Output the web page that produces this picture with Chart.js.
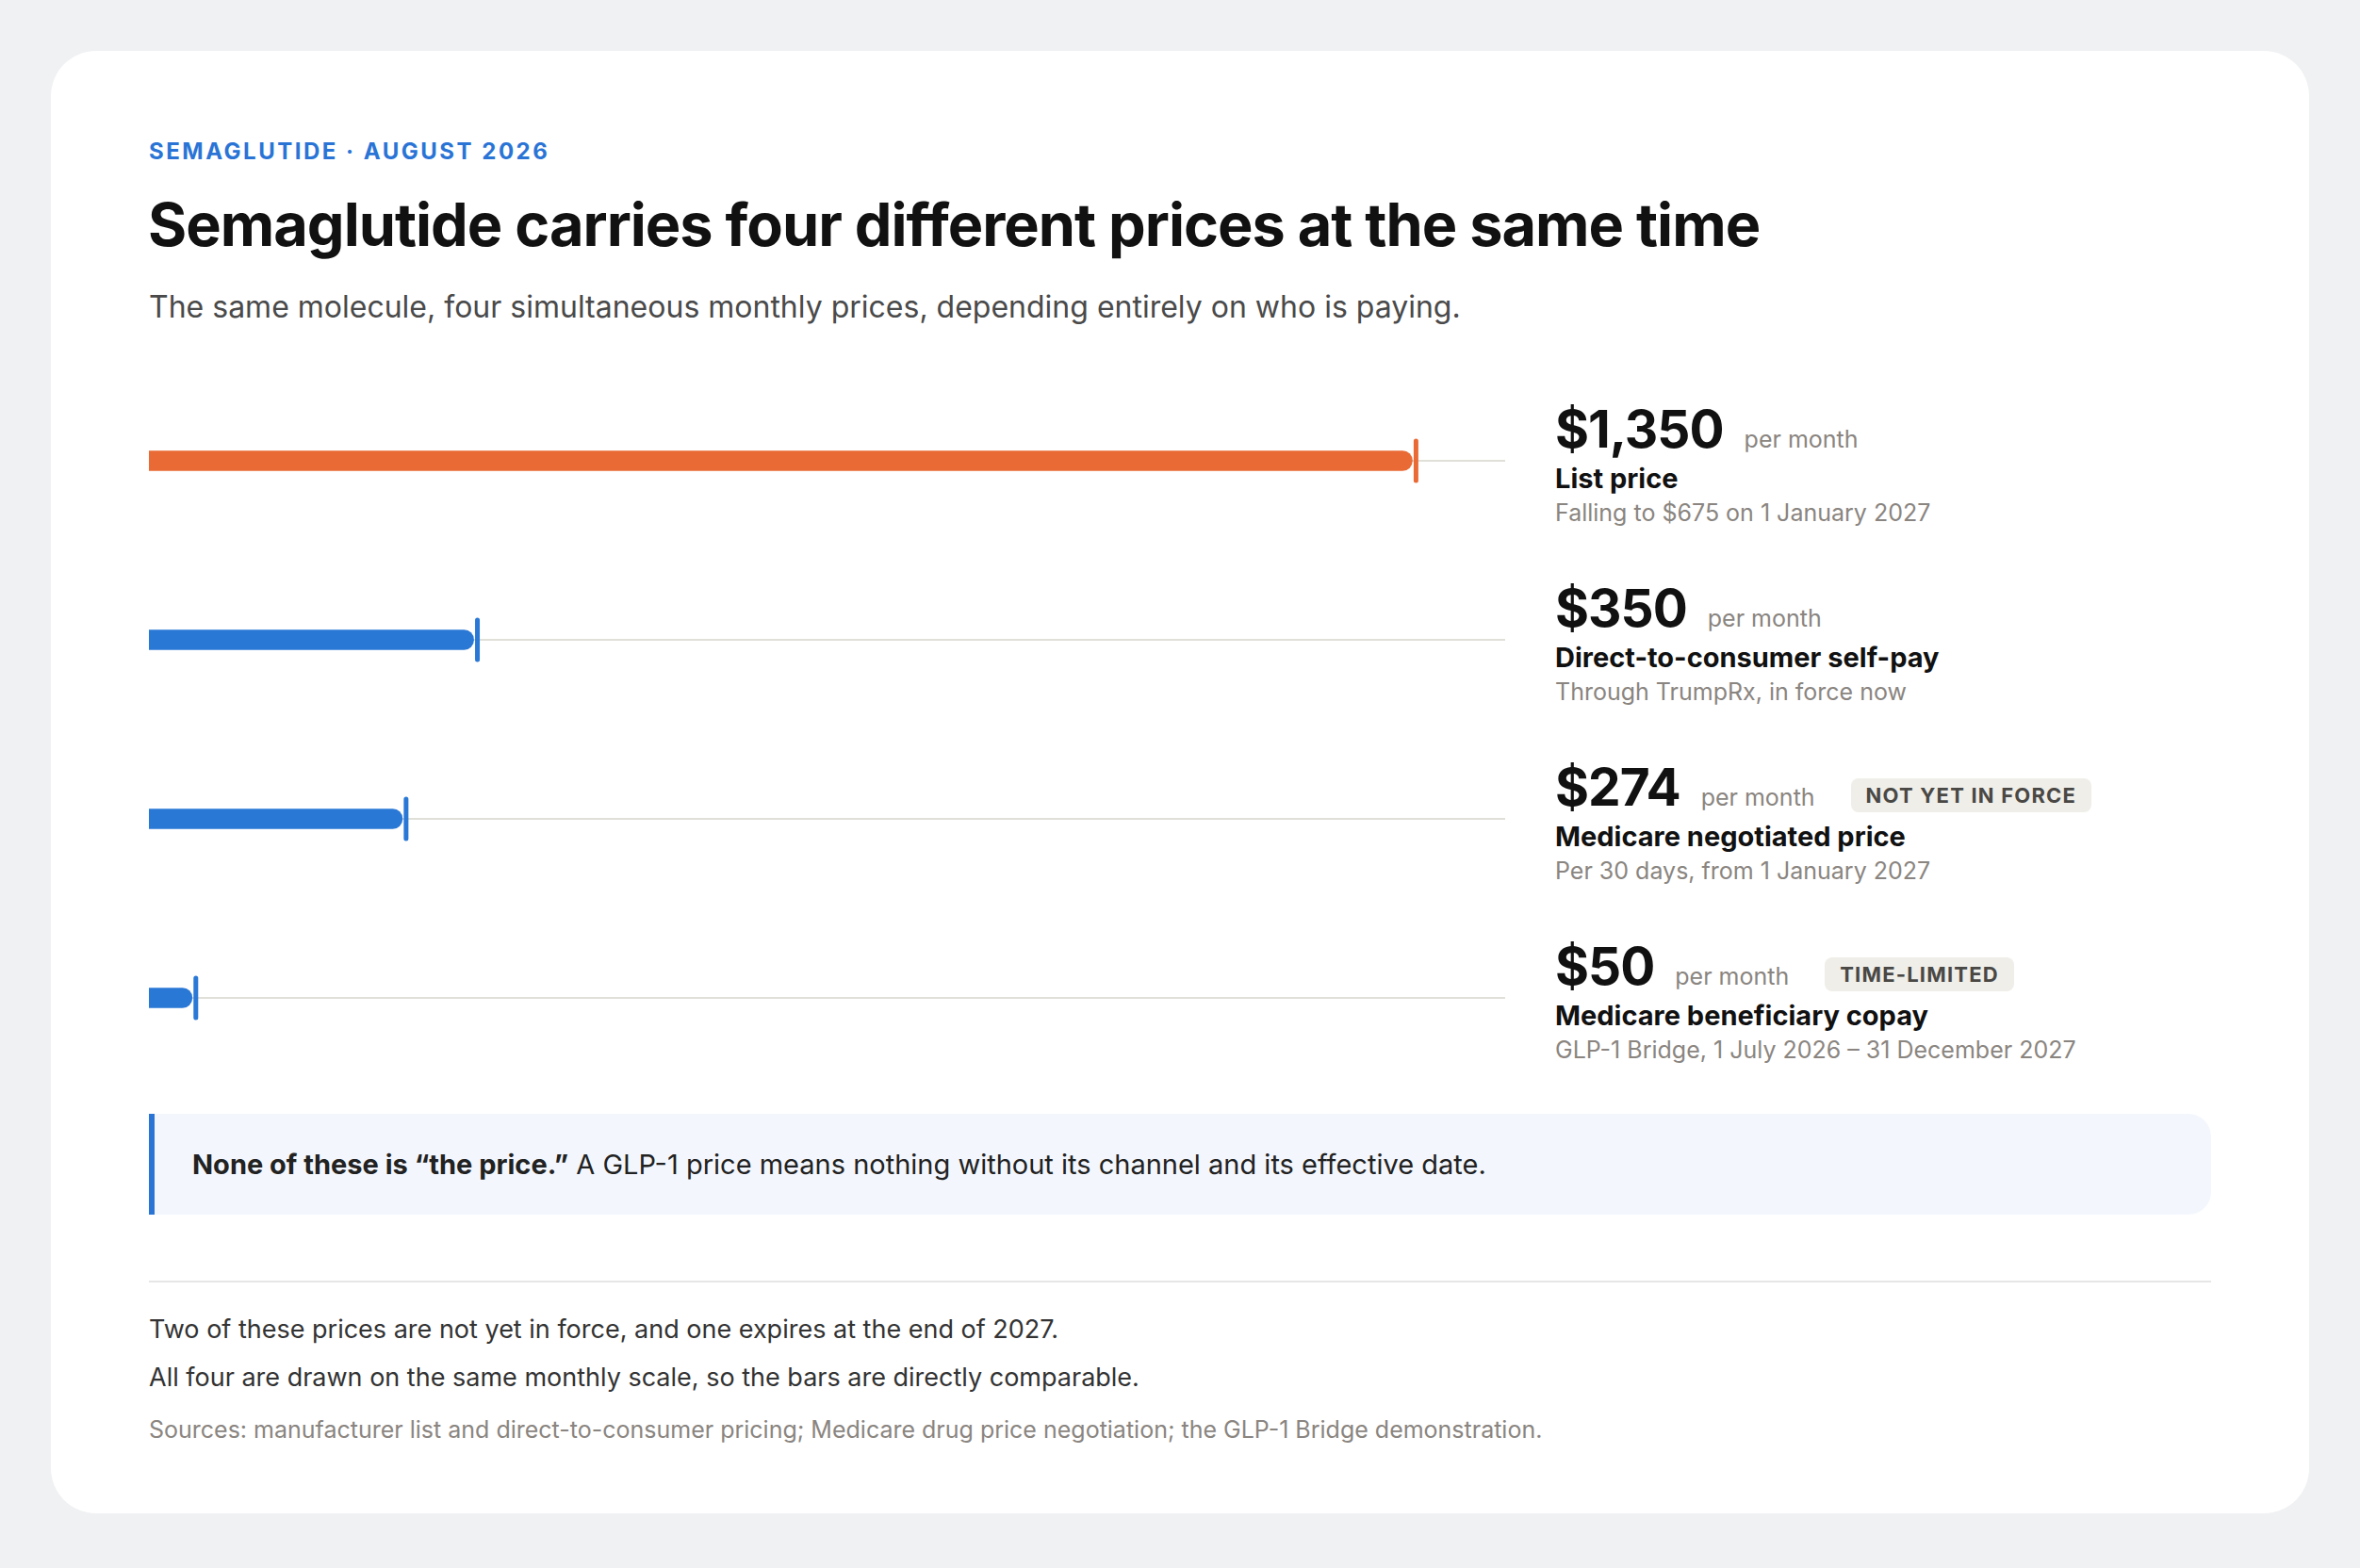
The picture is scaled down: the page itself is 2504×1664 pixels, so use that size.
<!DOCTYPE html>
<html>
<head>
<meta charset="utf-8">
<script src="https://cdn.jsdelivr.net/npm/chart.js@4"></script>
<style>
  body { margin:0; background:#f0f1f3; font-family:Inter, "Noto Sans", sans-serif; width:2504px; height:1664px; overflow:hidden; }
  .card { position:absolute; left:54px; top:54px; width:2396px; height:1552px; background:#fff; border-radius:48px; }
  .abs { position:absolute; white-space:nowrap; }
  .kicker { left:104px; top:92px; font-size:24px; font-weight:700; letter-spacing:2.5px; color:#2a74d6; }
  .title { left:103px; top:146px; font-size:63px; font-weight:700; letter-spacing:-1px; color:#111; }
  .sub { left:104px; top:252px; font-size:32px; color:#4a4a4a; }
  .chart { left:104px; top:340px; width:1439px; height:760px; }
  .row { left:1596px; }
  .price { font-size:55px; font-weight:700; color:#111; letter-spacing:-1px; display:inline-block; vertical-align:baseline; }
  .per { font-size:25px; color:#8a8580; margin-left:22px; }
  .badge { font-size:22px; font-weight:700; letter-spacing:1.2px; color:#4a4845; background:#efeee9; padding:5px 16px; border-radius:8px; margin-left:38px; position:relative; top:-3px; }
  .lbl { font-size:29px; font-weight:700; color:#111; margin-top:2px; }
  .note { font-size:25px; color:#8a8580; margin-top:4px; }
  .callout { left:104px; top:1128px; width:2188px; height:107px; background:#f3f7fd; border-left:6px solid #2a74d6; border-radius:0 24px 24px 0; box-sizing:border-box; padding-left:40px; line-height:107px; font-size:29px; color:#222; }
  .rule { left:104px; top:1305px; width:2188px; height:2px; background:#e6e6e6; }
  .foot { left:104px; font-size:27px; color:#333; }
  .src { left:104px; top:1448px; font-size:25px; color:#8a8580; }
</style>
</head>
<body>
<div class="card">
  <div class="abs kicker">SEMAGLUTIDE · AUGUST 2026</div>
  <div class="abs title">Semaglutide carries four different prices at the same time</div>
  <div class="abs sub">The same molecule, four simultaneous monthly prices, depending entirely on who is paying.</div>
  <div class="abs chart"><canvas id="priceChart"></canvas></div>
  <div id="labels"></div>
  <div class="abs callout"><b>None of these is “the price.”</b> A GLP-1 price means nothing without its channel and its effective date.</div>
  <div class="abs rule"></div>
  <div class="abs foot" style="top:1340px">Two of these prices are not yet in force, and one expires at the end of 2027.</div>
  <div class="abs foot" style="top:1391px">All four are drawn on the same monthly scale, so the bars are directly comparable.</div>
  <div class="abs src">Sources: manufacturer list and direct-to-consumer pricing; Medicare drug price negotiation; the GLP-1 Bridge demonstration.</div>
</div>
<script>
const categories = ['List price', 'Direct-to-consumer self-pay', 'Medicare negotiated price', 'Medicare beneficiary copay'];
const prices = [1350, 350, 274, 50];
const priceLabels = ['$1,350', '$350', '$274', '$50'];
const notes = ['Falling to $675 on 1 January 2027', 'Through TrumpRx, in force now', 'Per 30 days, from 1 January 2027', 'GLP-1 Bridge, 1 July 2026 – 31 December 2027'];
const badges = ['', '', 'NOT YET IN FORCE', 'TIME-LIMITED'];
const colors = ['#e96a35', '#2a78d6', '#2a78d6', '#2a78d6'];
const axisMax = 1445;

// right-hand text column
document.getElementById('labels').innerHTML = categories.map((c, i) => `
  <div class="abs row" style="top:${368 + i * 190}px">
    <div><span class="price">${priceLabels[i]}</span><span class="per">per month</span>${badges[i] ? `<span class="badge">${badges[i]}</span>` : ''}</div>
    <div class="lbl">${c}</div>
    <div class="note">${notes[i]}</div>
  </div>`).join('');

// track line + end tick behind/after each bar
const trackPlugin = {
  id: 'track',
  beforeDatasetsDraw(chart) {
    const { ctx, chartArea, scales: { x, y } } = chart;
    ctx.save();
    ctx.strokeStyle = '#e0dfd8';
    ctx.lineWidth = 2;
    prices.forEach((v, i) => {
      const yy = y.getPixelForValue(i);
      ctx.beginPath();
      ctx.moveTo(x.getPixelForValue(0), yy);
      ctx.lineTo(chartArea.right, yy);
      ctx.stroke();
    });
    ctx.restore();
  },
  afterDatasetsDraw(chart) {
    const { ctx, scales: { x, y } } = chart;
    ctx.save();
    ctx.lineWidth = 5;
    ctx.lineCap = 'round';
    prices.forEach((v, i) => {
      const xx = x.getPixelForValue(v), yy = y.getPixelForValue(i);
      ctx.strokeStyle = colors[i];
      ctx.beginPath();
      ctx.moveTo(xx, yy - 21);
      ctx.lineTo(xx, yy + 21);
      ctx.stroke();
    });
    ctx.restore();
  }
};

new Chart(document.getElementById('priceChart'), {
  type: 'bar',
  data: {
    labels: categories,
    datasets: [{
      data: prices.map(p => p - 4),
      backgroundColor: colors,
      barThickness: 21,
      borderRadius: 11,
      borderSkipped: 'start'
    }]
  },
  options: {
    indexAxis: 'y',
    responsive: true, maintainAspectRatio: false,
    animation: false,
    layout: { padding: 0 },
    plugins: { legend: { display: false }, tooltip: { enabled: false } },
    scales: {
      x: { display: false, min: 0, max: axisMax },
      y: { display: false }
    }
  },
  plugins: [trackPlugin]
});
</script>
</body>
</html>
